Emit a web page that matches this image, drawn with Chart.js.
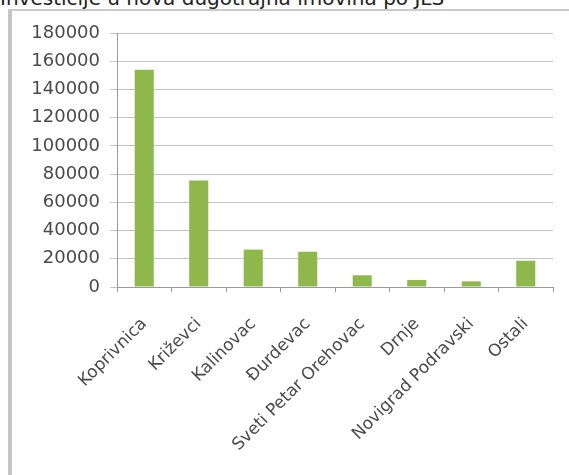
<!DOCTYPE html>
<html>
<head>
<meta charset="utf-8">
<script src="https://cdn.jsdelivr.net/npm/chart.js@4/dist/chart.umd.min.js"></script>
<style>
  html, body { margin: 0; padding: 0; background: #fff; overflow: hidden; }
  #wrap { position: relative; width: 569px; height: 475px; overflow: hidden; }
  #title {
    position: absolute; left: 0; top: -12px; white-space: nowrap;
    font-family: "DejaVu Sans", sans-serif; font-size: 20px; line-height: 20px; color: #222;
  }
  #frame {
    position: absolute; left: 8px; top: 9px; width: 600px; height: 500px;
    border-left: 4px solid #c4c4c4; border-top: 2px solid #cacaca;
  }
  #chart { position: absolute; left: 0; top: 0; }
</style>
</head>
<body>
<div id="wrap">
  <div id="title">Investicije u nova dugotrajna imovina po JLS</div>
  <div id="frame"></div>
  <canvas id="chart" width="569" height="475"></canvas>
</div>
<script>
// Investicije po jedinicama lokalne samouprave
const categories = ['Koprivnica', 'Križevci', 'Kalinovac', 'Đurdevac', 'Sveti Petar Orehovac', 'Drnje', 'Novigrad Podravski', 'Ostali'];
const values = [154000, 75500, 26500, 25000, 8300, 5000, 4000, 18600];
const yMax = 180000;
const yStep = 20000;

new Chart(document.getElementById('chart'), {
    type: 'bar',
    data: {
        labels: categories,
        datasets: [{
            data: values,
            backgroundColor: '#8fb84a',
            borderWidth: 0,
            barPercentage: 0.35,
            categoryPercentage: 1
        }]
    },
    options: {
        responsive: false,
        animation: false,
        layout: { padding: { top: 33, right: 16, left: 0, bottom: 0 } },
        plugins: { legend: { display: false }, tooltip: { enabled: false } },
        scales: {
            x: {
                grid: { drawOnChartArea: false, drawTicks: true, tickLength: 5, color: '#9a9a9a', offset: true },
                border: { color: '#9a9a9a' },
                ticks: {
                    font: { family: 'DejaVu Sans', size: 17 }, color: '#4a4a4a',
                    minRotation: 45, maxRotation: 45, autoSkip: false, padding: 22
                },
                afterFit: (scale) => { scale.height = 188; }
            },
            y: {
                min: 0, max: yMax,
                grid: { color: '#c4c4c4', tickLength: 7, drawTicks: true },
                border: { color: '#9a9a9a' },
                ticks: {
                    stepSize: yStep, font: { family: 'DejaVu Sans', size: 18 }, color: '#4a4a4a', padding: 10,
                    callback: (v) => String(v)
                },
                afterFit: (scale) => { scale.width = 117; }
            }
        }
    }
});
</script>
</body>
</html>
